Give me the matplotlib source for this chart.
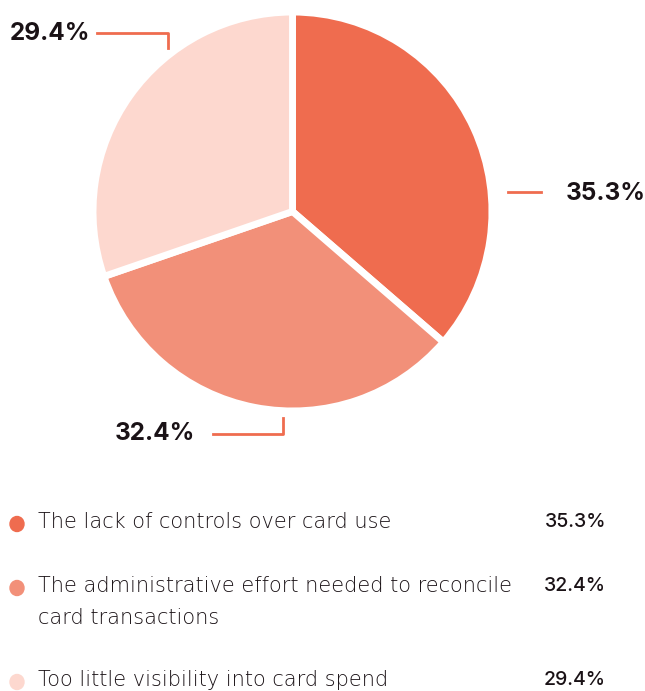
import matplotlib
matplotlib.use("Agg")
import matplotlib.pyplot as plt
from matplotlib.patches import Circle
from matplotlib.lines import Line2D

# Survey answers
categories = [
    "The lack of controls over card use",
    "The administrative effort needed to reconcile\ncard transactions",
    "Too little visibility into card spend",
]
shares = [35.3, 32.4, 29.4]
colors = ["#EF6C4F", "#F29079", "#FDD8CF"]
value_labels = [f"{v:.1f}%" for v in shares]

W, H = 645, 691
DPI = 100
TEXT = "#1A1216"
LEADER = "#EF6C4F"

fig = plt.figure(figsize=(W / DPI, H / DPI), dpi=DPI)
fig.patch.set_facecolor("white")


def fx(x):
    return x / W


def fy(y):
    return 1 - y / H


# Pie area
cx, cy, r = 292.5, 211.5, 199.5
ax = fig.add_axes([fx(cx - r), fy(cy + r), 2 * r / W, 2 * r / H])
ax.pie(shares, colors=colors, startangle=90, counterclock=False,
       wedgeprops=dict(edgecolor="white", linewidth=5), radius=1)
ax.set_xlim(-1, 1)
ax.set_ylim(-1, 1)
ax.set_aspect("equal")
ax.axis("off")

# Leader lines and value callouts
leaders = [
    ([508, 541], [192, 192]),
    ([213, 283, 283], [434, 434, 418]),
    ([97, 168, 168], [33, 33, 48]),
]
callouts = [(566, 193), (115, 433), (10, 33)]
for (xs, ys), (tx, ty), lab in zip(leaders, callouts, value_labels):
    fig.add_artist(Line2D([fx(x) for x in xs], [fy(y) for y in ys],
                          color=LEADER, linewidth=2, transform=fig.transFigure))
    fig.text(fx(tx), fy(ty), lab, fontsize=17.5, fontweight="bold", color=TEXT,
             family="Inter", ha="left", va="center")

# Legend
label_y = [522, 602, 680]
value_y = [522, 586, 680]
for cat, col, lab, ly, vy in zip(categories, colors, value_labels, label_y, value_y):
    fig.add_artist(Circle((fx(17), fy(vy + 2)), 7 / W, color=col,
                          transform=fig.transFigure))
    fig.text(fx(38), fy(ly), cat, fontsize=15, color=TEXT,
             family="DejaVu Sans", fontweight="light", ha="left", va="center",
             linespacing=1.72)
    fig.text(fx(606), fy(vy), lab, fontsize=14, color=TEXT, family="Inter",
             fontweight="medium", ha="right", va="center")

fig.savefig("out.png", dpi=DPI)
